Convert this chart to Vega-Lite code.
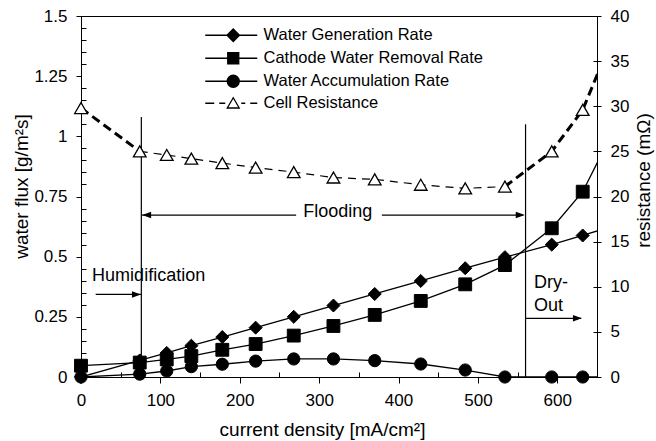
{
  "$schema": "https://vega.github.io/schema/vega-lite/v6.json",
  "width": 516,
  "height": 361,
  "autosize": {"type": "none"},
  "padding": {"left": 81, "top": 16, "right": 59, "bottom": 64},
  "background": "white",
  "config": {
    "font": "Liberation Sans",
    "view": {"stroke": "black", "strokeWidth": 1},
    "axis": {
      "grid": false, "domainColor": "black", "domainWidth": 1, "tickColor": "black", "tickWidth": 1,
      "labelColor": "black", "titleColor": "black", "labelFontSize": 17, "titleFontSize": 19,
      "titleFontWeight": "normal", "labelOverlap": false, "labelFlush": false, "labelPadding": 9,
      "labelFont": "Liberation Sans", "titleFont": "Liberation Sans"
    }
  },
  "datasets": {
    "flux": [
      {"series": "Water Generation Rate", "x": 0, "v": 0},
      {"series": "Water Generation Rate", "x": 74, "v": 0.069},
      {"series": "Water Generation Rate", "x": 108, "v": 0.1},
      {"series": "Water Generation Rate", "x": 139, "v": 0.13},
      {"series": "Water Generation Rate", "x": 178, "v": 0.166},
      {"series": "Water Generation Rate", "x": 220, "v": 0.205},
      {"series": "Water Generation Rate", "x": 268, "v": 0.25},
      {"series": "Water Generation Rate", "x": 318, "v": 0.297},
      {"series": "Water Generation Rate", "x": 370, "v": 0.345},
      {"series": "Water Generation Rate", "x": 428, "v": 0.399},
      {"series": "Water Generation Rate", "x": 484, "v": 0.452},
      {"series": "Water Generation Rate", "x": 534, "v": 0.498},
      {"series": "Water Generation Rate", "x": 593, "v": 0.55},
      {"series": "Water Generation Rate", "x": 632, "v": 0.588},
      {"series": "Water Generation Rate", "x": 670, "v": 0.627},
      {"series": "Cathode Water Removal Rate", "x": 0, "v": 0.047},
      {"series": "Cathode Water Removal Rate", "x": 74, "v": 0.06},
      {"series": "Cathode Water Removal Rate", "x": 108, "v": 0.073},
      {"series": "Cathode Water Removal Rate", "x": 139, "v": 0.087},
      {"series": "Cathode Water Removal Rate", "x": 178, "v": 0.113},
      {"series": "Cathode Water Removal Rate", "x": 220, "v": 0.137},
      {"series": "Cathode Water Removal Rate", "x": 268, "v": 0.172},
      {"series": "Cathode Water Removal Rate", "x": 318, "v": 0.212},
      {"series": "Cathode Water Removal Rate", "x": 370, "v": 0.258},
      {"series": "Cathode Water Removal Rate", "x": 428, "v": 0.316},
      {"series": "Cathode Water Removal Rate", "x": 484, "v": 0.385},
      {"series": "Cathode Water Removal Rate", "x": 534, "v": 0.465},
      {"series": "Cathode Water Removal Rate", "x": 593, "v": 0.618},
      {"series": "Cathode Water Removal Rate", "x": 632, "v": 0.77},
      {"series": "Cathode Water Removal Rate", "x": 670, "v": 1.02},
      {"series": "Water Accumulation Rate", "x": 0, "v": 0},
      {"series": "Water Accumulation Rate", "x": 74, "v": 0.012},
      {"series": "Water Accumulation Rate", "x": 108, "v": 0.025},
      {"series": "Water Accumulation Rate", "x": 139, "v": 0.043},
      {"series": "Water Accumulation Rate", "x": 178, "v": 0.053},
      {"series": "Water Accumulation Rate", "x": 220, "v": 0.066},
      {"series": "Water Accumulation Rate", "x": 268, "v": 0.075},
      {"series": "Water Accumulation Rate", "x": 318, "v": 0.075},
      {"series": "Water Accumulation Rate", "x": 370, "v": 0.068},
      {"series": "Water Accumulation Rate", "x": 428, "v": 0.054},
      {"series": "Water Accumulation Rate", "x": 484, "v": 0.029},
      {"series": "Water Accumulation Rate", "x": 534, "v": 0},
      {"series": "Water Accumulation Rate", "x": 593, "v": 0},
      {"series": "Water Accumulation Rate", "x": 632, "v": 0},
      {"series": "Water Accumulation Rate", "x": 670, "v": 0}
    ],
    "res": [
      {"series": "Cell Resistance", "x": 0, "r": 29.8},
      {"series": "Cell Resistance", "x": 74, "r": 25.0},
      {"series": "Cell Resistance", "x": 108, "r": 24.6},
      {"series": "Cell Resistance", "x": 139, "r": 24.2},
      {"series": "Cell Resistance", "x": 178, "r": 23.7},
      {"series": "Cell Resistance", "x": 220, "r": 23.2},
      {"series": "Cell Resistance", "x": 268, "r": 22.7},
      {"series": "Cell Resistance", "x": 318, "r": 22.1},
      {"series": "Cell Resistance", "x": 370, "r": 21.9},
      {"series": "Cell Resistance", "x": 428, "r": 21.3},
      {"series": "Cell Resistance", "x": 484, "r": 20.9},
      {"series": "Cell Resistance", "x": 534, "r": 21.1},
      {"series": "Cell Resistance", "x": 593, "r": 25.0},
      {"series": "Cell Resistance", "x": 632, "r": 29.6},
      {"series": "Cell Resistance", "x": 670, "r": 37.7}
    ],
    "vlines": [
      {"x": 76, "v": 0, "v2": 1.08},
      {"x": 560, "v": 0, "v2": 1.05}
    ],
    "arrows": [
      {"x": 18.5, "x2": 75.5, "v": 0.343},
      {"x": 77, "x2": 271, "v": 0.673},
      {"x": 379, "x2": 557, "v": 0.673},
      {"x": 560, "x2": 630, "v": 0.244}
    ],
    "headsRight": [
      {"x": 75.5, "v": 0.343},
      {"x": 559, "v": 0.673},
      {"x": 631, "v": 0.244}
    ],
    "headsLeft": [
      {"x": 77, "v": 0.673}
    ],
    "labels": [
      {"x": 14, "v": 0.421, "text": "Humidification"},
      {"x": 280, "v": 0.686, "text": "Flooding"},
      {"x": 570.5, "v": 0.389, "text": "Dry-"},
      {"x": 570.5, "v": 0.296, "text": "Out"}
    ]
  },
  "layer": [
    {
      "encoding": {
        "x": {
          "field": "x", "type": "quantitative", "scale": {"domain": [0, 650], "nice": false},
          "axis": {
            "orient": "bottom",
            "title": "current density [mA/cm²]",
            "values": [0, 100, 200, 300, 400, 500, 600],
            "tickSize": 6,
            "titleX": 241, "titleY": 52, "titleAlign": "center", "titleBaseline": "middle"
          }
        },
        "y": {
          "field": "v", "type": "quantitative", "scale": {"domain": [0, 1.5], "nice": false},
          "axis": {
            "orient": "left",
            "title": "water flux [g/m²s]",
            "values": [0, 0.25, 0.5, 0.75, 1, 1.25, 1.5],
            "labelExpr": "'' + datum.value",
            "tickSize": 5,
            "titleX": -60, "titleY": 170, "titleAngle": 270, "titleAlign": "center", "titleBaseline": "middle"
          }
        }
      },
      "layer": [
        {
          "data": {"name": "vlines"},
          "mark": {"type": "rule", "color": "black", "strokeWidth": 1.2},
          "encoding": {"y2": {"field": "v2"}}
        },
        {
          "data": {"name": "arrows"},
          "mark": {"type": "rule", "color": "black", "strokeWidth": 1.2},
          "encoding": {"x2": {"field": "x2"}}
        },
        {
          "data": {"name": "headsRight"},
          "mark": {"type": "point", "shape": "M0,0L-4.5,-1.6L-4.5,1.6Z", "size": 16, "filled": true, "color": "black", "opacity": 1},
          "encoding": {}
        },
        {
          "data": {"name": "headsLeft"},
          "mark": {"type": "point", "shape": "M0,0L4.5,-1.6L4.5,1.6Z", "size": 16, "filled": true, "color": "black", "opacity": 1},
          "encoding": {}
        },
        {
          "data": {"name": "labels"},
          "mark": {"type": "text", "align": "left", "baseline": "middle", "fontSize": 18, "font": "Liberation Sans", "color": "black"},
          "encoding": {"text": {"field": "text"}}
        },
        {
          "data": {"name": "flux"},
          "mark": {"type": "line", "color": "black", "strokeWidth": 1.3, "clip": true},
          "encoding": {"detail": {"field": "series"}}
        },
        {
          "data": {"name": "flux"},
          "transform": [{"filter": "datum.x < 650 && datum.series === 'Water Generation Rate'"}],
          "mark": {"type": "point", "shape": "diamond", "size": 170, "filled": true, "fill": "black", "stroke": "black", "strokeWidth": 1, "opacity": 1},
          "encoding": {}
        },
        {
          "data": {"name": "flux"},
          "transform": [{"filter": "datum.x < 650 && datum.series === 'Cathode Water Removal Rate'"}],
          "mark": {"type": "point", "shape": "square", "size": 165, "filled": true, "fill": "black", "stroke": "black", "strokeWidth": 1, "opacity": 1},
          "encoding": {}
        },
        {
          "data": {"name": "flux"},
          "transform": [{"filter": "datum.x < 650 && datum.series === 'Water Accumulation Rate'"}],
          "mark": {"type": "point", "shape": "circle", "size": 150, "filled": true, "fill": "black", "stroke": "black", "strokeWidth": 1, "opacity": 1},
          "encoding": {}
        },
        {
          "data": {"name": "flux"},
          "transform": [{"filter": "datum.x > 100000"}],
          "mark": {"type": "point", "filled": true, "stroke": "black", "strokeWidth": 1.3, "opacity": 1},
          "encoding": {
            "shape": {
              "field": "series", "type": "nominal",
              "scale": {
                "domain": ["Water Generation Rate", "Cathode Water Removal Rate", "Water Accumulation Rate", "Cell Resistance"],
                "range": [
                  "M-5.6,0L-1.3,0M1.3,0L4.8,0M0,-1.25L1.25,0L0,1.25L-1.25,0Z",
                  "M-5.6,0L-1.1,0M1.1,0L4.8,0M-1.1,-1.1L1.1,-1.1L1.1,1.1L-1.1,1.1Z",
                  "M-5.6,0L-1.2,0M1.2,0L4.8,0M1.2,0C1.2,0.663 0.663,1.2 0,1.2C-0.663,1.2 -1.2,0.663 -1.2,0C-1.2,-0.663 -0.663,-1.2 0,-1.2C0.663,-1.2 1.2,-0.663 1.2,0Z",
                  "M-5.6,0L-3.8,0M-2.8,0L-1.6,0M1.6,0L2.4,0M3.4,0L4.8,0M0,-1.1L1.2,0.95L-1.2,0.95Z"
                ]
              },
              "legend": {
                "orient": "none", "legendX": 144, "legendY": 11, "title": null, "padding": 0,
                "labelFont": "Liberation Sans", "labelFontSize": 16.5, "labelColor": "black", "labelLimit": 400,
                "labelOffset": 22, "rowPadding": 5, "symbolSize": 100, "symbolStrokeColor": "black", "symbolStrokeWidth": 1.3
              }
            },
            "color": {
              "field": "series", "type": "nominal",
              "scale": {"domain": ["Water Generation Rate", "Cathode Water Removal Rate", "Water Accumulation Rate", "Cell Resistance"], "range": ["black", "black", "black", "white"]},
              "legend": {
                "orient": "none", "legendX": 144, "legendY": 11, "title": null, "padding": 0,
                "labelFont": "Liberation Sans", "labelFontSize": 16.5, "labelColor": "black", "labelLimit": 400,
                "labelOffset": 22, "rowPadding": 5, "symbolSize": 100, "symbolStrokeColor": "black", "symbolStrokeWidth": 1.3
              }
            }
          }
        }
      ]
    },
    {
      "encoding": {
        "x": {"field": "x", "type": "quantitative", "scale": {"domain": [0, 650], "nice": false}, "axis": null},
        "y": {
          "field": "r", "type": "quantitative", "scale": {"domain": [0, 40], "nice": false},
          "axis": {
            "orient": "right",
            "title": "resistance (mΩ)",
            "values": [0, 5, 10, 15, 20, 25, 30, 35, 40],
            "tickSize": 4,
            "titleX": 46, "titleY": 164, "titleAngle": 270, "titleAlign": "center", "titleBaseline": "middle"
          }
        }
      },
      "layer": [
        {
          "data": {"name": "res"},
          "transform": [{"filter": "datum.x >= 70 && datum.x <= 540"}],
          "mark": {"type": "line", "color": "black", "strokeWidth": 1.2, "strokeDash": [8, 6], "clip": true},
          "encoding": {}
        },
        {
          "data": {"name": "res"},
          "transform": [{"filter": "datum.x <= 80"}],
          "mark": {"type": "line", "color": "black", "strokeWidth": 3, "strokeDash": [9, 5], "clip": true},
          "encoding": {}
        },
        {
          "data": {"name": "res"},
          "transform": [{"filter": "datum.x >= 530"}],
          "mark": {"type": "line", "color": "black", "strokeWidth": 3, "strokeDash": [9, 5], "clip": true},
          "encoding": {}
        },
        {
          "data": {"name": "res"},
          "transform": [{"filter": "datum.x < 650"}],
          "mark": {"type": "point", "shape": "triangle-up", "filled": true, "fill": "white", "stroke": "black", "strokeWidth": 1.3, "size": 160, "opacity": 1},
          "encoding": {}
        }
      ]
    },
    {
      "data": {"name": "vlines"},
      "transform": [{"filter": "datum.x > 100000"}],
      "mark": {"type": "rule", "color": "black"},
      "encoding": {
        "x": {
          "field": "x", "type": "quantitative", "scale": {"domain": [0, 650], "nice": false},
          "axis": {"orient": "bottom", "values": [50, 150, 250, 350, 450, 550, 650], "labels": false, "domain": false, "tickSize": -5, "title": null}
        },
        "y": {
          "field": "v", "type": "quantitative", "scale": {"domain": [0, 1.5], "nice": false},
          "axis": {"orient": "left", "values": [0.05, 0.1, 0.15, 0.2, 0.3, 0.35, 0.4, 0.45, 0.55, 0.6, 0.65, 0.7, 0.8, 0.85, 0.9, 0.95, 1.05, 1.1, 1.15, 1.2, 1.3, 1.35, 1.4, 1.45], "labels": false, "domain": false, "tickSize": -5, "title": null}
        }
      }
    },
    {
      "data": {"name": "res"},
      "transform": [{"filter": "datum.x > 100000"}],
      "mark": {"type": "rule", "color": "black"},
      "encoding": {
        "x": {"field": "x", "type": "quantitative", "scale": {"domain": [0, 650], "nice": false}, "axis": null},
        "y": {
          "field": "r", "type": "quantitative", "scale": {"domain": [0, 40], "nice": false},
          "axis": {"orient": "right", "values": [5, 10, 15, 20, 25, 30, 35], "labels": false, "domain": false, "tickSize": -4, "title": null}
        }
      }
    }
  ],
  "resolve": {"scale": {"x": "independent", "y": "independent"}, "axis": {"x": "independent", "y": "independent"}}
}
